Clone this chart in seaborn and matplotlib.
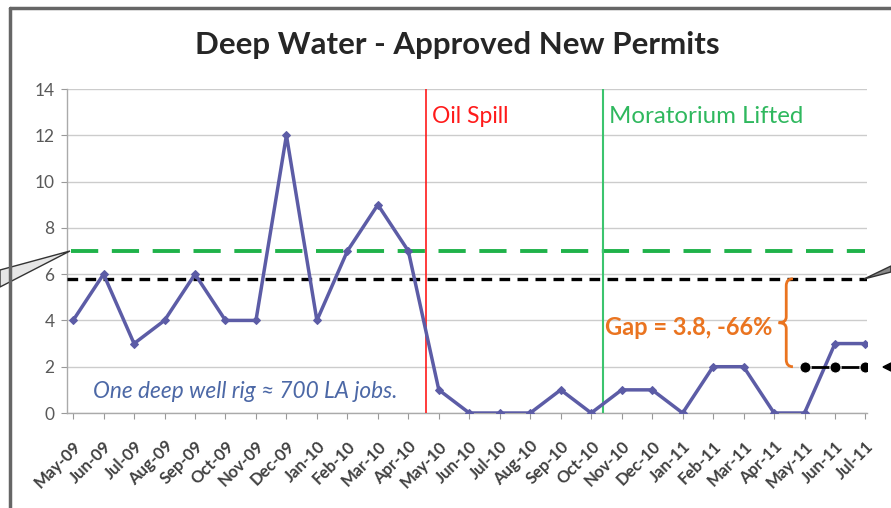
import numpy as np
import pandas as pd
import matplotlib
matplotlib.use("Agg")
import matplotlib.pyplot as plt
from matplotlib.path import Path
from matplotlib.patches import PathPatch, Polygon
from matplotlib.lines import Line2D
from matplotlib.transforms import ScaledTranslation
import seaborn as sns

# --- data ---
months = ["May-09", "Jun-09", "Jul-09", "Aug-09", "Sep-09", "Oct-09", "Nov-09",
          "Dec-09", "Jan-10", "Feb-10", "Mar-10", "Apr-10", "May-10", "Jun-10",
          "Jul-10", "Aug-10", "Sep-10", "Oct-10", "Nov-10", "Dec-10", "Jan-11",
          "Feb-11", "Mar-11", "Apr-11", "May-11", "Jun-11", "Jul-11"]
permits = [4, 6, 3, 4, 6, 4, 4, 12, 4, 7, 9, 7, 1, 0, 0, 0, 1, 0, 1, 1, 0,
           2, 2, 0, 0, 3, 3]
pre_spill_avg = 7.0        # green dashed
overall_avg = 5.8          # black dashed
recent_months = ["May-11", "Jun-11", "Jul-11"]
recent_avg = [2, 2, 2]     # black solid
oil_spill_pos = 11.57      # between Apr-10 and May-10
moratorium_pos = 17.4      # between Oct-10 and Nov-10

df = pd.DataFrame({"month": months, "permits": permits})
df["idx"] = np.arange(len(df))
recent = pd.DataFrame({"idx": [months.index(m) for m in recent_months],
                       "val": recent_avg})

sns.set_style("white")
plt.rcParams["font.family"] = ["Lato", "DejaVu Sans"]

fig = plt.figure(figsize=(8.91, 5.08), dpi=100)
ax = fig.add_axes([67 / 891, 1 - 413 / 508, 800 / 891, 324 / 508])

purple = "#5c5ca6"
sns.lineplot(data=df, x="idx", y="permits", ax=ax, color=purple, lw=2.5,
             marker="D", markersize=4.5, markeredgecolor=purple, zorder=5)
sns.lineplot(data=recent, x="idx", y="val", ax=ax, color="black", lw=2,
             marker="o", markersize=8, zorder=6)

ax.axhline(pre_spill_avg, xmin=0.005, xmax=0.998, color="#1fb24a", lw=2.8,
           dashes=(7, 3.5), zorder=3)
ax.axhline(overall_avg, color="black", lw=2.4, dashes=(3.2, 2.2), zorder=3)
ax.plot([oil_spill_pos] * 2, [0, 14], color="#ff1a1a", lw=1.2, zorder=4)
ax.plot([moratorium_pos] * 2, [0, 14], color="#3cc46e", lw=1.5, zorder=4)

ax.text(oil_spill_pos + 0.2, 12.8, "Oil Spill", color="#ff1a1a", fontsize=16.5,
        va="center", ha="left")
ax.text(moratorium_pos + 0.2, 12.8, "Moratorium Lifted", color="#2fb85e",
        fontsize=17.3, va="center", ha="left")
ax.text(0.66, 0.95, "One deep well rig \u2248 700 LA jobs.", color="#4c68a6",
        fontsize=16.3, style="italic", va="center", ha="left")

# brace marking the gap between the averages
bx, tip, end = 23.4, 23.15, 23.62
top, bot = overall_avg, recent_avg[0]
mid = (top + bot) / 2
verts = [(end, top), (bx, top), (bx, top - 0.3),
         (bx, mid + 0.25),
         (bx, mid), (tip, mid),
         (bx, mid), (bx, mid - 0.25),
         (bx, bot + 0.3),
         (bx, bot), (end, bot)]
codes = [Path.MOVETO, Path.CURVE3, Path.CURVE3,
         Path.LINETO,
         Path.CURVE3, Path.CURVE3,
         Path.CURVE3, Path.CURVE3,
         Path.LINETO,
         Path.CURVE3, Path.CURVE3]
ax.add_patch(PathPatch(Path(verts, codes), fill=False, edgecolor="#ea7420",
                       lw=2, zorder=6))
ax.text(tip - 0.2, mid - 0.2, "Gap = 3.8, -66%", color="#ea7420", fontsize=17,
        fontweight="bold", ha="right", va="center")

ax.set_xlim(-0.2, 26.05)
ax.set_ylim(0, 14)
ax.set_yticks(range(0, 15, 2))
ax.set_xticks(df["idx"])
ax.set_xticklabels(months, rotation=45, ha="right", rotation_mode="anchor",
                   fontsize=12, color="#404040", fontweight="bold")
shift = ScaledTranslation(4 / 100, -3 / 100, fig.dpi_scale_trans)
for lab in ax.get_xticklabels():
    lab.set_transform(lab.get_transform() + shift)
ax.tick_params(axis="y", labelsize=12.5, colors="#595959", length=4,
               left=True, color="#999999", pad=5)
ax.tick_params(axis="x", length=4, bottom=True, color="#999999", pad=14)
ax.set_xlabel("")
ax.set_ylabel("")
ax.grid(axis="y", color="#cccccc", lw=1)
for side in ["top", "right"]:
    ax.spines[side].set_visible(False)
for side in ["left", "bottom"]:
    ax.spines[side].set_color("#aaaaaa")
    ax.spines[side].set_linewidth(1)

fig.text(457 / 891, 1 - 45 / 508, "Deep Water - Approved New Permits",
         fontsize=22.5, fontweight="bold", ha="center", va="center")

# clipped frame and callout pointers from the surrounding slide
def px(x, y):
    return (x / 891, 1 - y / 508)

fig.add_artist(Line2D([px(10, 0)[0], 1], [px(0, 8)[1]] * 2, color="#666666",
                      lw=2.5))
fig.add_artist(Line2D([px(10, 0)[0]] * 2, [px(0, 8)[1], 0], color="#666666",
                      lw=2.5))
fig.add_artist(Polygon([px(70, 251), px(0, 270), px(0, 287)], closed=True,
                       facecolor="#e6e6e6", edgecolor="#333333", lw=1))
fig.add_artist(Polygon([px(864, 279), px(891, 266), px(891, 272)], closed=True,
                       facecolor="#888888", edgecolor="#333333", lw=1))
fig.add_artist(Polygon([px(883, 367), px(891, 363), px(891, 371)], closed=True,
                       facecolor="black", edgecolor="black", lw=1))

fig.savefig("out.png", dpi=100)
